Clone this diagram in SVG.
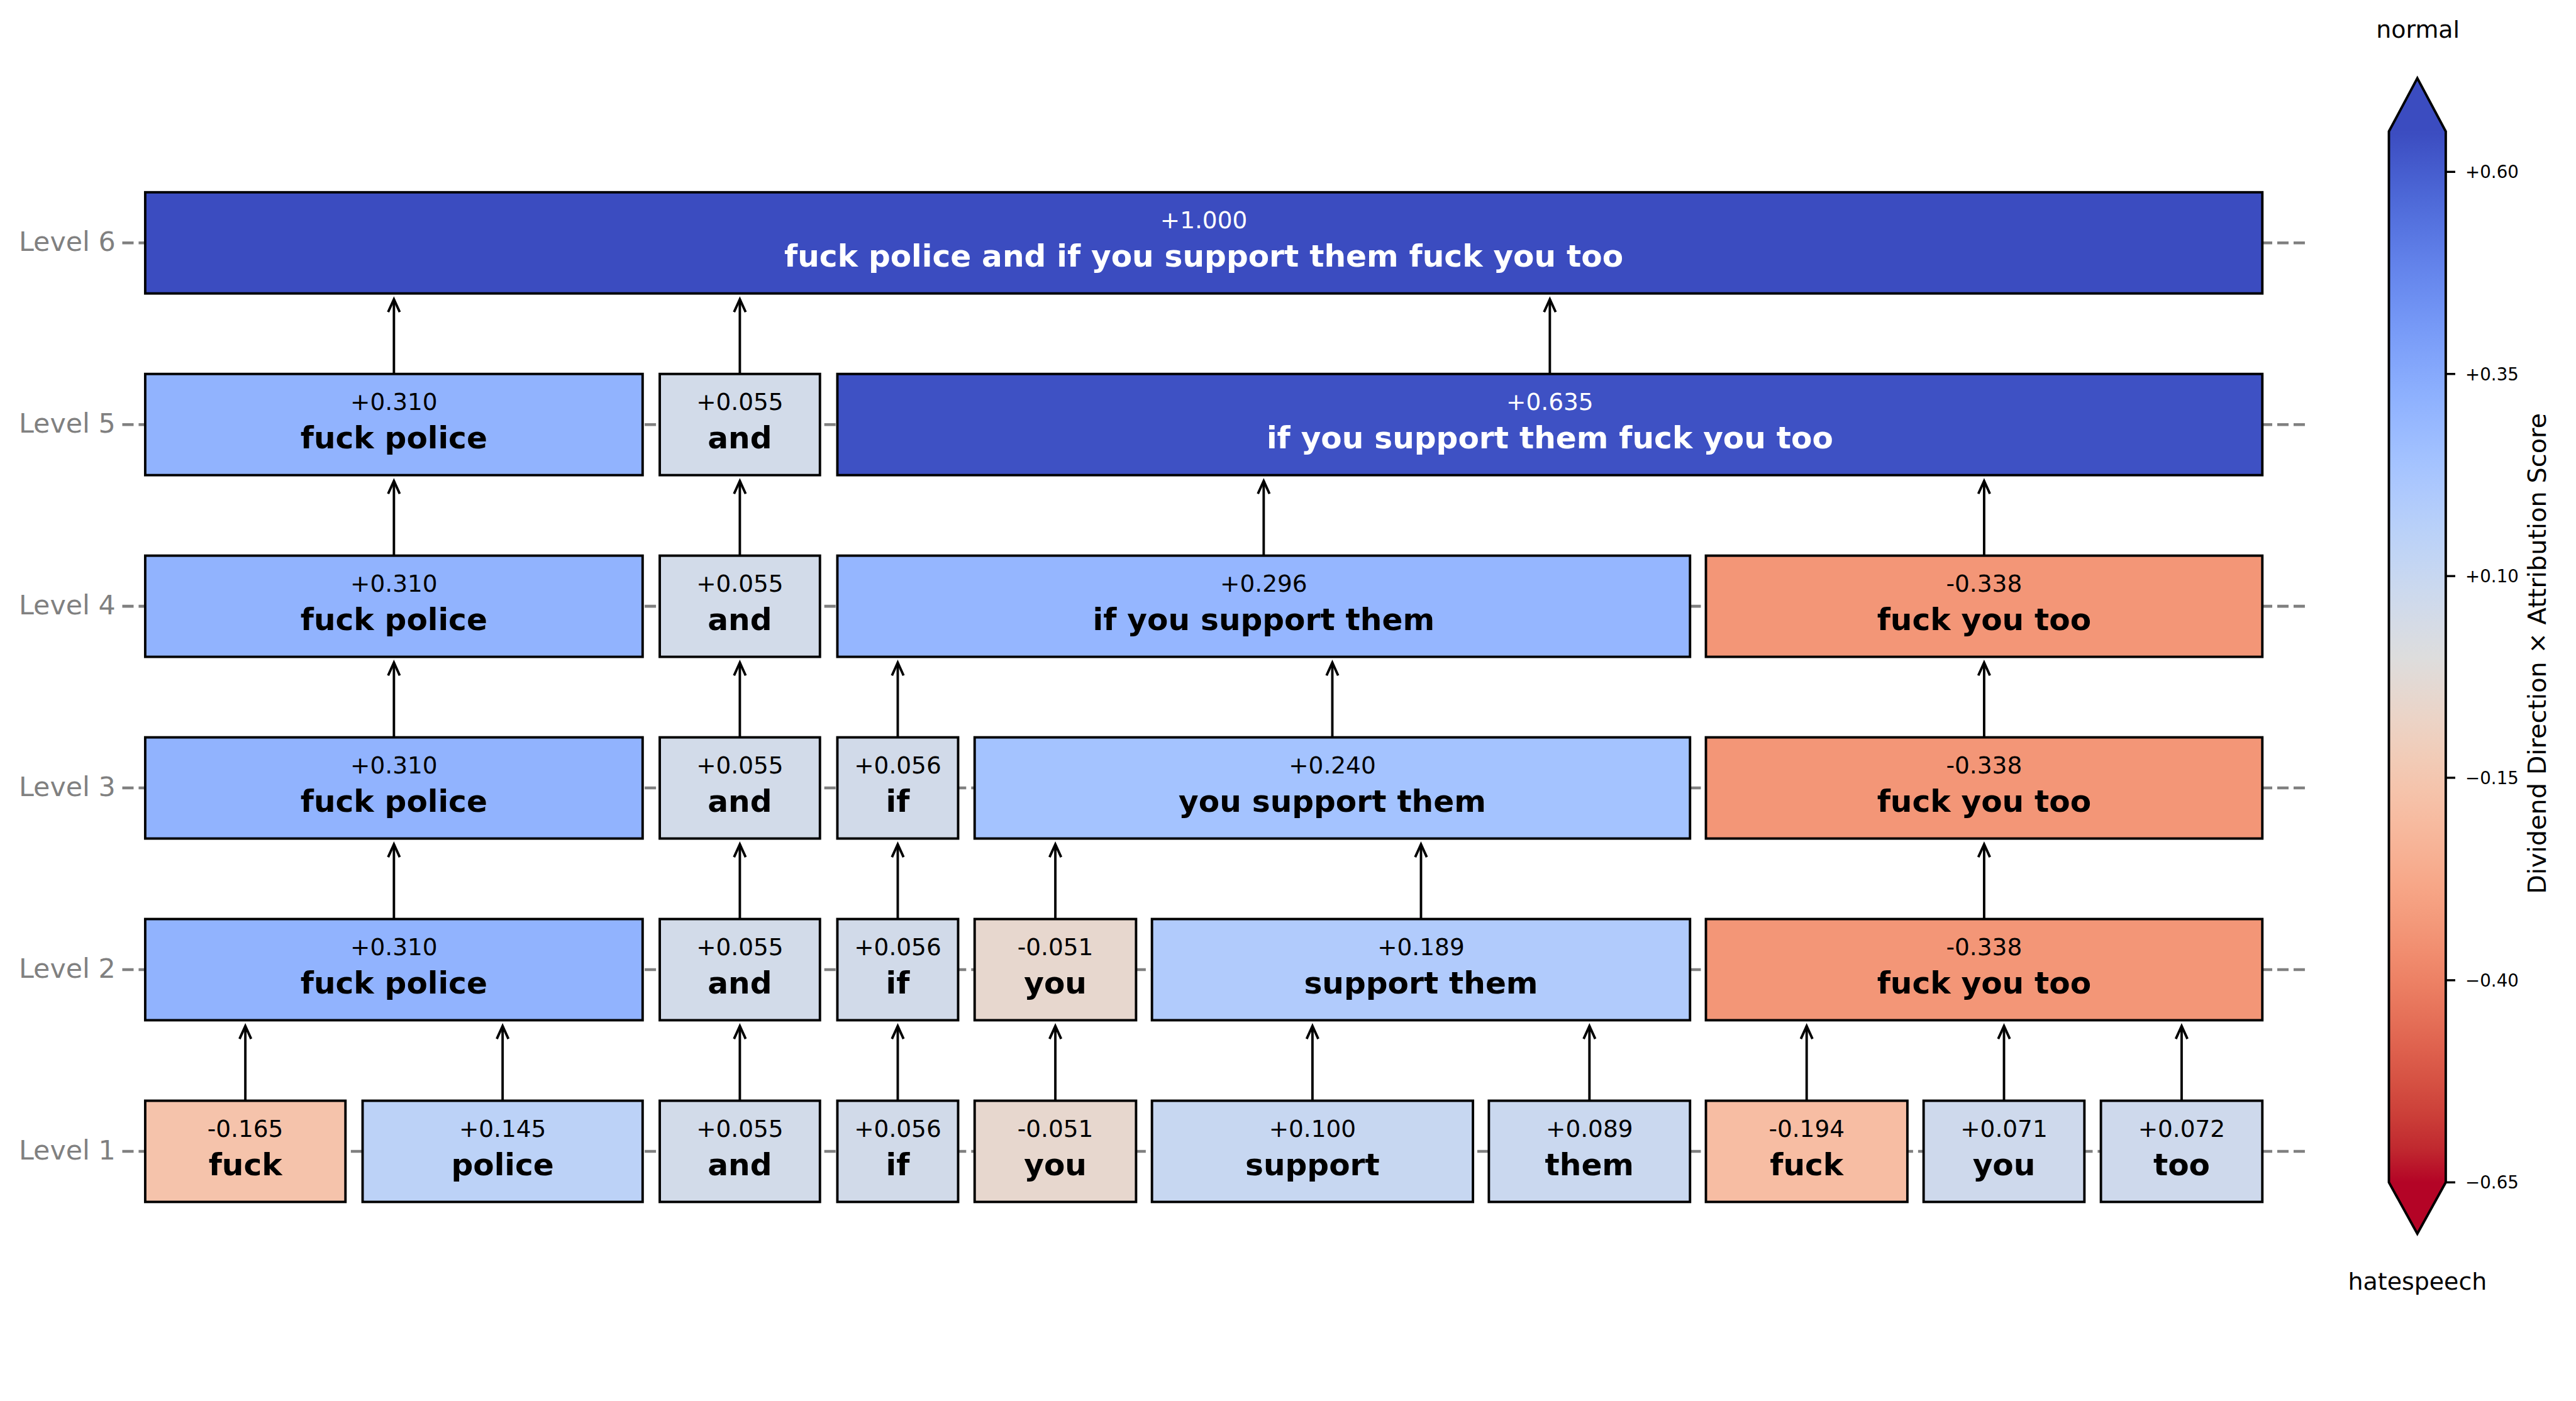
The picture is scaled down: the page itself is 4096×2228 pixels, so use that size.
<svg xmlns="http://www.w3.org/2000/svg" width="4096" height="2228" viewBox="0 0 4096 2228">
<style>
.box{stroke:#000;stroke-width:4}
.val{font-family:'DejaVu Sans',sans-serif;font-size:38.5px;text-anchor:middle;fill:#000}
.lab{font-family:'DejaVu Sans',sans-serif;font-size:50px;font-weight:bold;text-anchor:middle;fill:#000}
.wt{fill:#fff}
.lvl{font-family:'DejaVu Sans',sans-serif;font-size:44px;fill:#808080;text-anchor:end}
.grid{stroke:#808080;stroke-width:4.7;stroke-dasharray:18.5 8.2;fill:none}
.conn line{stroke:#000;stroke-width:4;fill:none;marker-end:url(#ah)}
.tick{stroke:#000;stroke-width:3.5}
.tl{font-family:'DejaVu Sans',sans-serif;font-size:28.5px;fill:#000}
.cbt{font-family:'DejaVu Sans',sans-serif;font-size:39px;fill:#000;text-anchor:middle}
</style>
<defs>
<marker id="ah" markerUnits="userSpaceOnUse" markerWidth="30" markerHeight="30" viewBox="-25 -15 30 30" refX="0" refY="0" orient="auto" overflow="visible">
<path d="M-21,-9.5 L0,0 L-21,9.5" fill="none" stroke="#000" stroke-width="4"/>
</marker>
<linearGradient id="cw" x1="0" y1="0" x2="0" y2="1">
<stop offset="0" stop-color="rgb(59,76,192)"/>
<stop offset="0.03125" stop-color="rgb(68,90,204)"/>
<stop offset="0.0625" stop-color="rgb(77,104,215)"/>
<stop offset="0.09375" stop-color="rgb(87,117,225)"/>
<stop offset="0.125" stop-color="rgb(98,130,234)"/>
<stop offset="0.15625" stop-color="rgb(108,142,241)"/>
<stop offset="0.1875" stop-color="rgb(119,154,247)"/>
<stop offset="0.21875" stop-color="rgb(130,165,251)"/>
<stop offset="0.25" stop-color="rgb(141,176,254)"/>
<stop offset="0.28125" stop-color="rgb(152,185,255)"/>
<stop offset="0.3125" stop-color="rgb(163,194,255)"/>
<stop offset="0.34375" stop-color="rgb(174,201,253)"/>
<stop offset="0.375" stop-color="rgb(184,208,249)"/>
<stop offset="0.40625" stop-color="rgb(194,213,244)"/>
<stop offset="0.4375" stop-color="rgb(204,217,238)"/>
<stop offset="0.46875" stop-color="rgb(213,219,230)"/>
<stop offset="0.5" stop-color="rgb(221,221,221)"/>
<stop offset="0.53125" stop-color="rgb(229,216,209)"/>
<stop offset="0.5625" stop-color="rgb(236,211,197)"/>
<stop offset="0.59375" stop-color="rgb(241,204,184)"/>
<stop offset="0.625" stop-color="rgb(245,196,172)"/>
<stop offset="0.65625" stop-color="rgb(247,187,160)"/>
<stop offset="0.6875" stop-color="rgb(247,177,148)"/>
<stop offset="0.71875" stop-color="rgb(247,166,135)"/>
<stop offset="0.75" stop-color="rgb(244,154,123)"/>
<stop offset="0.78125" stop-color="rgb(241,141,111)"/>
<stop offset="0.8125" stop-color="rgb(236,127,99)"/>
<stop offset="0.84375" stop-color="rgb(229,112,88)"/>
<stop offset="0.875" stop-color="rgb(222,96,77)"/>
<stop offset="0.90625" stop-color="rgb(213,80,66)"/>
<stop offset="0.9375" stop-color="rgb(203,62,56)"/>
<stop offset="0.96875" stop-color="rgb(192,40,47)"/>
<stop offset="1" stop-color="rgb(180,4,38)"/>
</linearGradient>
</defs>
<rect x="0" y="0" width="4096" height="2228" fill="#fff"/>
<g transform="scale(0.97223)">

<g id="level-labels">
<text class="lvl" x="189" y="410.25">Level 6</text>
<text class="lvl" x="189" y="707.45">Level 5</text>
<text class="lvl" x="189" y="1004.65">Level 4</text>
<text class="lvl" x="189" y="1301.85">Level 3</text>
<text class="lvl" x="189" y="1599.05">Level 2</text>
<text class="lvl" x="189" y="1896.25">Level 1</text>
</g>

<g id="gridlines">
<line class="grid" x1="200" y1="397.25" x2="3770" y2="397.25"/>
<line class="grid" x1="200" y1="694.45" x2="3770" y2="694.45"/>
<line class="grid" x1="200" y1="991.65" x2="3770" y2="991.65"/>
<line class="grid" x1="200" y1="1288.85" x2="3770" y2="1288.85"/>
<line class="grid" x1="200" y1="1586.05" x2="3770" y2="1586.05"/>
<line class="grid" x1="200" y1="1883.25" x2="3770" y2="1883.25"/>
</g>

<g id="connectors" class="conn">
<line x1="401.25" y1="1800.5" x2="401.25" y2="1678.3"/>
<line x1="822" y1="1800.5" x2="822" y2="1678.3"/>
<line x1="1210" y1="1800.5" x2="1210" y2="1678.3"/>
<line x1="1468.25" y1="1800.5" x2="1468.25" y2="1678.3"/>
<line x1="1726" y1="1800.5" x2="1726" y2="1678.3"/>
<line x1="2146.5" y1="1800.5" x2="2146.5" y2="1678.3"/>
<line x1="2599.5" y1="1800.5" x2="2599.5" y2="1678.3"/>
<line x1="2954.75" y1="1800.5" x2="2954.75" y2="1678.3"/>
<line x1="3277.5" y1="1800.5" x2="3277.5" y2="1678.3"/>
<line x1="3568" y1="1800.5" x2="3568" y2="1678.3"/>

<line x1="644.25" y1="1503.3" x2="644.25" y2="1381.1"/>
<line x1="1210" y1="1503.3" x2="1210" y2="1381.1"/>
<line x1="1468.25" y1="1503.3" x2="1468.25" y2="1381.1"/>
<line x1="1726" y1="1503.3" x2="1726" y2="1381.1"/>
<line x1="2324" y1="1503.3" x2="2324" y2="1381.1"/>
<line x1="3245" y1="1503.3" x2="3245" y2="1381.1"/>

<line x1="644.25" y1="1206.1" x2="644.25" y2="1083.9"/>
<line x1="1210" y1="1206.1" x2="1210" y2="1083.9"/>
<line x1="1468.25" y1="1206.1" x2="1468.25" y2="1083.9"/>
<line x1="2179" y1="1206.1" x2="2179" y2="1083.9"/>
<line x1="3245" y1="1206.1" x2="3245" y2="1083.9"/>

<line x1="644.25" y1="908.9" x2="644.25" y2="786.7"/>
<line x1="1210" y1="908.9" x2="1210" y2="786.7"/>
<line x1="2066.75" y1="908.9" x2="2066.75" y2="786.7"/>
<line x1="3245" y1="908.9" x2="3245" y2="786.7"/>

<line x1="644.25" y1="611.7" x2="644.25" y2="489.5"/>
<line x1="1210" y1="611.7" x2="1210" y2="489.5"/>
<line x1="2534.75" y1="611.7" x2="2534.75" y2="489.5"/>
</g>

<!-- Level 6 -->
<g id="L6-all">
<rect class="box" x="237.5" y="314.5" width="3462.5" height="165.5" fill="#3b4cc0"/>
<text class="val wt" x="1968.75" y="373.75">+1.000</text>
<text class="lab wt" x="1968.75" y="435.95">fuck police and if you support them fuck you too</text>
</g>

<!-- Level 5 -->
<g id="L5-fuck-police">
<rect class="box" x="237.5" y="611.7" width="813.5" height="165.5" fill="#91b3fe"/>
<text class="val" x="644.25" y="670.95">+0.310</text>
<text class="lab" x="644.25" y="733.15">fuck police</text>
</g>
<g id="L5-and">
<rect class="box" x="1079" y="611.7" width="262" height="165.5" fill="#d2dbe9"/>
<text class="val" x="1210" y="670.95">+0.055</text>
<text class="lab" x="1210" y="733.15">and</text>
</g>
<g id="L5-if-you-support-them-fuck-you-too">
<rect class="box" x="1369.5" y="611.7" width="2330.5" height="165.5" fill="#3e51c4"/>
<text class="val wt" x="2534.75" y="670.95">+0.635</text>
<text class="lab wt" x="2534.75" y="733.15">if you support them fuck you too</text>
</g>

<!-- Level 4 -->
<g id="L4-fuck-police">
<rect class="box" x="237.5" y="908.9" width="813.5" height="165.5" fill="#91b3fe"/>
<text class="val" x="644.25" y="968.15">+0.310</text>
<text class="lab" x="644.25" y="1030.35">fuck police</text>
</g>
<g id="L4-and">
<rect class="box" x="1079" y="908.9" width="262" height="165.5" fill="#d2dbe9"/>
<text class="val" x="1210" y="968.15">+0.055</text>
<text class="lab" x="1210" y="1030.35">and</text>
</g>
<g id="L4-if-you-support-them">
<rect class="box" x="1369.5" y="908.9" width="1394.5" height="165.5" fill="#95b6ff"/>
<text class="val" x="2066.75" y="968.15">+0.296</text>
<text class="lab" x="2066.75" y="1030.35">if you support them</text>
</g>
<g id="L4-fuck-you-too">
<rect class="box" x="2790" y="908.9" width="910" height="165.5" fill="#f39677"/>
<text class="val" x="3245" y="968.15">-0.338</text>
<text class="lab" x="3245" y="1030.35">fuck you too</text>
</g>

<!-- Level 3 -->
<g id="L3-fuck-police">
<rect class="box" x="237.5" y="1206.1" width="813.5" height="165.5" fill="#91b3fe"/>
<text class="val" x="644.25" y="1265.35">+0.310</text>
<text class="lab" x="644.25" y="1327.55">fuck police</text>
</g>
<g id="L3-and">
<rect class="box" x="1079" y="1206.1" width="262" height="165.5" fill="#d2dbe9"/>
<text class="val" x="1210" y="1265.35">+0.055</text>
<text class="lab" x="1210" y="1327.55">and</text>
</g>
<g id="L3-if">
<rect class="box" x="1369.5" y="1206.1" width="197.5" height="165.5" fill="#d1dae9"/>
<text class="val" x="1468.25" y="1265.35">+0.056</text>
<text class="lab" x="1468.25" y="1327.55">if</text>
</g>
<g id="L3-you-support-them">
<rect class="box" x="1594" y="1206.1" width="1170" height="165.5" fill="#a4c3ff"/>
<text class="val" x="2179" y="1265.35">+0.240</text>
<text class="lab" x="2179" y="1327.55">you support them</text>
</g>
<g id="L3-fuck-you-too">
<rect class="box" x="2790" y="1206.1" width="910" height="165.5" fill="#f39677"/>
<text class="val" x="3245" y="1265.35">-0.338</text>
<text class="lab" x="3245" y="1327.55">fuck you too</text>
</g>

<!-- Level 2 -->
<g id="L2-fuck-police">
<rect class="box" x="237.5" y="1503.3" width="813.5" height="165.5" fill="#91b3fe"/>
<text class="val" x="644.25" y="1562.55">+0.310</text>
<text class="lab" x="644.25" y="1624.75">fuck police</text>
</g>
<g id="L2-and">
<rect class="box" x="1079" y="1503.3" width="262" height="165.5" fill="#d2dbe9"/>
<text class="val" x="1210" y="1562.55">+0.055</text>
<text class="lab" x="1210" y="1624.75">and</text>
</g>
<g id="L2-if">
<rect class="box" x="1369.5" y="1503.3" width="197.5" height="165.5" fill="#d1dae9"/>
<text class="val" x="1468.25" y="1562.55">+0.056</text>
<text class="lab" x="1468.25" y="1624.75">if</text>
</g>
<g id="L2-you">
<rect class="box" x="1594" y="1503.3" width="264" height="165.5" fill="#e7d7ce"/>
<text class="val" x="1726" y="1562.55">-0.051</text>
<text class="lab" x="1726" y="1624.75">you</text>
</g>
<g id="L2-support-them">
<rect class="box" x="1884" y="1503.3" width="880" height="165.5" fill="#b1cbfc"/>
<text class="val" x="2324" y="1562.55">+0.189</text>
<text class="lab" x="2324" y="1624.75">support them</text>
</g>
<g id="L2-fuck-you-too">
<rect class="box" x="2790" y="1503.3" width="910" height="165.5" fill="#f39677"/>
<text class="val" x="3245" y="1562.55">-0.338</text>
<text class="lab" x="3245" y="1624.75">fuck you too</text>
</g>

<!-- Level 1 -->
<g id="L1-fuck">
<rect class="box" x="237.5" y="1800.5" width="327.5" height="165.5" fill="#f5c3ab"/>
<text class="val" x="401.25" y="1859.75">-0.165</text>
<text class="lab" x="401.25" y="1921.95">fuck</text>
</g>
<g id="L1-police">
<rect class="box" x="593" y="1800.5" width="458" height="165.5" fill="#bcd2f7"/>
<text class="val" x="822" y="1859.75">+0.145</text>
<text class="lab" x="822" y="1921.95">police</text>
</g>
<g id="L1-and">
<rect class="box" x="1079" y="1800.5" width="262" height="165.5" fill="#d2dbe9"/>
<text class="val" x="1210" y="1859.75">+0.055</text>
<text class="lab" x="1210" y="1921.95">and</text>
</g>
<g id="L1-if">
<rect class="box" x="1369.5" y="1800.5" width="197.5" height="165.5" fill="#d1dae9"/>
<text class="val" x="1468.25" y="1859.75">+0.056</text>
<text class="lab" x="1468.25" y="1921.95">if</text>
</g>
<g id="L1-you">
<rect class="box" x="1594" y="1800.5" width="264" height="165.5" fill="#e7d7ce"/>
<text class="val" x="1726" y="1859.75">-0.051</text>
<text class="lab" x="1726" y="1921.95">you</text>
</g>
<g id="L1-support">
<rect class="box" x="1884" y="1800.5" width="525" height="165.5" fill="#c7d7f1"/>
<text class="val" x="2146.5" y="1859.75">+0.100</text>
<text class="lab" x="2146.5" y="1921.95">support</text>
</g>
<g id="L1-them">
<rect class="box" x="2435" y="1800.5" width="329" height="165.5" fill="#cad8ef"/>
<text class="val" x="2599.5" y="1859.75">+0.089</text>
<text class="lab" x="2599.5" y="1921.95">them</text>
</g>
<g id="L1-fuck-2">
<rect class="box" x="2790" y="1800.5" width="329.5" height="165.5" fill="#f7bda3"/>
<text class="val" x="2954.75" y="1859.75">-0.194</text>
<text class="lab" x="2954.75" y="1921.95">fuck</text>
</g>
<g id="L1-you-2">
<rect class="box" x="3146" y="1800.5" width="263" height="165.5" fill="#ced9ec"/>
<text class="val" x="3277.5" y="1859.75">+0.071</text>
<text class="lab" x="3277.5" y="1921.95">you</text>
</g>
<g id="L1-too">
<rect class="box" x="3436" y="1800.5" width="264" height="165.5" fill="#ced9ec"/>
<text class="val" x="3568" y="1859.75">+0.072</text>
<text class="lab" x="3568" y="1921.95">too</text>
</g>

<!-- Colorbar -->
<g id="colorbar">
<rect x="3907" y="215" width="93" height="1719" fill="url(#cw)"/>
<polygon points="3907,215.5 3953.5,128 4000,215.5" fill="#3b4cc0"/>
<polygon points="3907,1933.5 3953.5,2018 4000,1933.5" fill="#b40426"/>
<path d="M3907,215 L3953.5,128 L4000,215 L4000,1934 L3953.5,2018 L3907,1934 Z" fill="none" stroke="#000" stroke-width="4"/>
<line class="tick" x1="4000" y1="281.1" x2="4015.5" y2="281.1"/>
<line class="tick" x1="4000" y1="611.7" x2="4015.5" y2="611.7"/>
<line class="tick" x1="4000" y1="942.3" x2="4015.5" y2="942.3"/>
<line class="tick" x1="4000" y1="1272.2" x2="4015.5" y2="1272.2"/>
<line class="tick" x1="4000" y1="1603.4" x2="4015.5" y2="1603.4"/>
<line class="tick" x1="4000" y1="1934" x2="4015.5" y2="1934"/>
<text class="tl" x="4032" y="291.5">+0.60</text>
<text class="tl" x="4032" y="622">+0.35</text>
<text class="tl" x="4032" y="952.6">+0.10</text>
<text class="tl" x="4032" y="1282.5">−0.15</text>
<text class="tl" x="4032" y="1613.7">−0.40</text>
<text class="tl" x="4032" y="1944.3">−0.65</text>
<text class="cbt" x="3954.5" y="62">normal</text>
<text class="cbt" x="3953.7" y="2110">hatespeech</text>
<text font-family="'DejaVu Sans',sans-serif" font-size="41" text-anchor="middle" transform="translate(4164,1069) rotate(-90)">Dividend Direction × Attribution Score</text>
</g>
</g>
</svg>
